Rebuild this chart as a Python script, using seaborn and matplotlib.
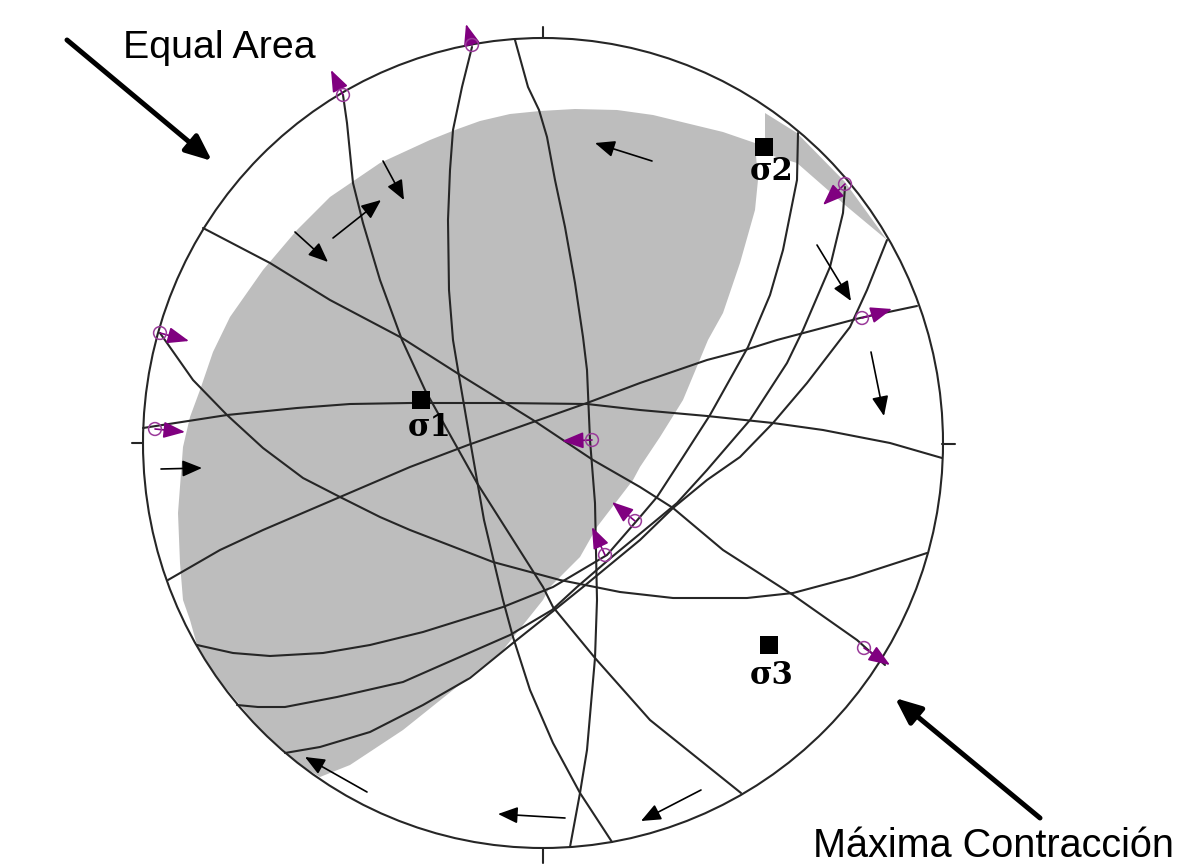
import pandas as pd
import seaborn as sns
import matplotlib.pyplot as plt
from matplotlib.patches import Polygon, Ellipse

sns.set_style('white')
plt.rcParams['font.family'] = ['Liberation Sans', 'DejaVu Sans']

#values, in image pixels
net_centre = (543, 443)
net_width = 800
net_height = 810

shade_main = [(690,124),(723,132),(755,143),(758,180),(755,210),(740,263),(723,313),(708,340),(683,400),(660,437),
              (640,467),(633,480),(597,527),(580,557),(550,587),(543,600),(503,650),(453,690),(403,730),(350,765),
              (320,777),(300,765),(260,729),(215,675),(197,645),(190,620),(183,600),(180,563),(178,513),(183,447),
              (190,417),(200,390),(213,352),(230,317),(263,270),(297,230),(330,197),(380,163),(430,140),(455,130),(480,121),
              (510,114),(540,111),(575,109),(617,110),(653,115)]
shade_sliver = [(765,113),(797,133),(845,182),(887,240),(845,205),(797,163),(770,155),(765,137)]

arc_a = [(343,95),(347,123),(353,183),(363,223),(380,280),(402,340),(425,390),(477,483),(543,587),(553,607),(595,658),(650,720),(741,793)]
arc_b = [(472,47),(462,87),(453,130),(450,170),(448,220),(449,290),(453,340),(458,370),(470,440),(484,520),(503,600),(513,637),(530,690),(553,743),(580,793),(612,842)]
arc_c = [(515,40),(528,87),(539,110),(547,137),(555,180),(565,227),(575,283),(583,337),(587,370),(590,440),(595,503),(597,600),(595,658),(587,750),(580,793),(570,847)]
arc_d = [(203,228),(270,263),(330,300),(402,338),(457,373),(533,420),(593,460),(640,487),(673,508),(723,550),(793,595),(857,640),(885,665)]
arc_e = [(160,333),(193,380),(227,415),(263,448),(303,478),(340,497),(380,517),(410,530),(493,562),(560,580),(620,592),(673,598),(747,598),(793,593),(853,577),(927,553)]
arc_f = [(143,428),(227,415),(297,408),(350,404),(410,403),(500,403),(587,404),(640,410),(707,416),(773,423),(823,430),(890,443),(942,458)]
arc_g = [(168,580),(220,550),(263,530),(340,497),(410,467),(468,445),(587,403),(640,383),(707,360),(745,350),(777,340),(860,318),(917,306)]
arc_h = [(197,645),(233,653),(270,656),(323,653),(370,645),(423,632),(503,607),(553,587),(607,555),(640,517),(657,497),(683,457),(710,415),(748,347),(770,295),(783,250),(797,180),(798,133)]
arc_i = [(237,705),(258,707),(285,707),(337,697),(403,682),(453,660),(510,635),(552,610),(577,587),(613,556),(653,523),(677,503),(707,470),(750,420),(787,363),(803,330),(830,267),(843,213),(845,187)]
arc_j = [(285,753),(320,747),(370,732),(423,705),(470,678),(513,643),(552,612),(583,587),(640,540),(673,508),(707,480),(740,457),(773,423),(807,383),(840,340),(850,327),(867,290),(887,240)]
arcs = [arc_a, arc_b, arc_c, arc_d, arc_e, arc_f, arc_g, arc_h, arc_i, arc_j]

ticks = [[(543,27),(543,38)], [(543,848),(543,863)], [(132,443),(143,443)], [(942,444),(955,444)]]

pole_x = [472, 343, 845, 862, 160, 155, 592, 635, 605, 864]
pole_y = [45, 95, 184, 318, 333, 429, 440, 521, 555, 648]
pole_end_x = [466, 331, 823, 892, 189, 185, 562, 612, 592, 890]
pole_end_y = [24, 70, 205, 309, 341, 432, 441, 502, 527, 665]

slip_from = [(652,161),(383,161),(333,238),(295,232),(817,245),(871,352),(161,469),(367,792),(565,818),(701,790)]
slip_to = [(595,143),(404,200),(381,200),(328,262),(851,301),(884,416),(202,468),(305,757),(498,814),(641,821)]

stress_x = [764, 421, 769]
stress_y = [147, 400, 645]
stress_labels = ['σ2', 'σ1', 'σ3']
stress_label_x = [772, 430, 772]
stress_label_y = [172, 427, 676]

PURPLE = '#800080'
LINE = '#262626'

fig = plt.figure(figsize=(11.85, 8.64), dpi=100)
ax = fig.add_axes([0, 0, 1, 1])

#shaded area first so that the lines stay on top
ax.add_patch(Polygon(shade_main, closed=True, fc='#bdbdbd', ec='none', zorder=1))
ax.add_patch(Polygon(shade_sliver, closed=True, fc='#bdbdbd', ec='none', zorder=1))
ax.add_patch(Ellipse(net_centre, net_width, net_height, fc='none', ec=LINE, lw=1.5, zorder=3))

#great circles and ticks
rows = []
for i, arc in enumerate(arcs + ticks):
    for x, y in arc:
        rows.append({'arc': i, 'x': x, 'y': y})
df = pd.DataFrame(rows)
sns.lineplot(data=df, x='x', y='y', units='arc', estimator=None, sort=False,
             color=LINE, lw=1.5, ax=ax, zorder=3)

#slip arrows
for a, b in zip(slip_from, slip_to):
    ax.annotate('', xy=b, xytext=a, zorder=4,
                arrowprops=dict(arrowstyle='-|>,head_length=1.0,head_width=0.42', color='black', lw=1.2,
                                mutation_scale=12, shrinkA=0, shrinkB=0))
for x0, y0, x1, y1 in zip(pole_x, pole_y, pole_end_x, pole_end_y):
    ax.annotate('', xy=(x1, y1), xytext=(x0, y0), zorder=5,
                arrowprops=dict(arrowstyle='-|>,head_length=1.1,head_width=0.42', color=PURPLE, lw=1.2,
                                mutation_scale=12, shrinkA=0, shrinkB=0))
sns.scatterplot(x=pole_x, y=pole_y, s=85, facecolor='none', edgecolor='#9a3a9a', linewidth=1.1, ax=ax, zorder=6)

#principal stresses
sns.scatterplot(x=stress_x, y=stress_y, s=180, marker='s', color='black', linewidth=0, ax=ax, zorder=6)
for lx, ly, t in zip(stress_label_x, stress_label_y, stress_labels):
    ax.text(lx, ly, t, family=['DejaVu Serif'], fontweight='bold', fontsize=22,
            ha='center', va='center', color='black', zorder=7)

#big arrows
ax.annotate('', xy=(212, 161), xytext=(67, 40), zorder=6,
            arrowprops=dict(arrowstyle='-|>,head_length=1.05,head_width=0.45', color='black', lw=3.6,
                            mutation_scale=15, shrinkA=0, shrinkB=0))
ax.annotate('', xy=(895, 698), xytext=(1040, 818), zorder=6,
            arrowprops=dict(arrowstyle='-|>,head_length=1.05,head_width=0.45', color='black', lw=3.6,
                            mutation_scale=15, shrinkA=0, shrinkB=0))

ax.text(123, 48, 'Equal Area', fontsize=28.4, ha='left', va='center', color='black')
ax.text(813, 846, 'Máxima Contracción', fontsize=28.5, ha='left', va='center', color='black')

ax.set_xlim(0, 1185)
ax.set_ylim(864, 0)
ax.axis('off')

fig.savefig('out.png', dpi=100)
